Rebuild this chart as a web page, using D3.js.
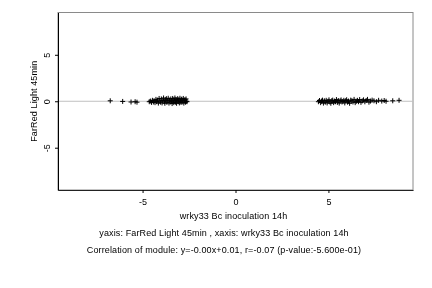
<!DOCTYPE html>
<html><head><meta charset="utf-8">
<script src="https://cdn.jsdelivr.net/npm/d3@7/dist/d3.min.js"></script>
<style>body{margin:0;background:#fff}svg{display:block;filter:grayscale(1)}text{font-family:"Liberation Sans",Arial,sans-serif;fill:#000}</style>
</head><body>
<script>
const xLabel = "wrky33 Bc inoculation 14h";
const yLabel = "FarRed Light 45min";
const caption1 = "yaxis: FarRed Light 45min , xaxis: wrky33 Bc inoculation 14h";
const caption2 = "Correlation of module: y=-0.00x+0.01, r=-0.07 (p-value:-5.600e-01)";
const xTicks = [-5, 0, 5];
const yTicks = [-5, 0, 5];
const xDomain = [-9.55, 9.55];
const yDomain = [-9.55, 9.55];

const leftX = [-6.74,-6.07,-5.62,-5.40,-5.30,-4.64,-4.58,-4.52,-4.47,-4.42,-4.38,-4.33,-4.28,-4.24,-4.20,-4.15,-4.11,-4.07,-4.03,-3.99,-3.95,-3.91,-3.87,-3.83,-3.80,-3.76,-3.72,-3.69,-3.65,-3.62,-3.58,-3.55,-3.51,-3.48,-3.45,-3.41,-3.38,-3.35,-3.32,-3.29,-3.26,-3.23,-3.20,-3.17,-3.14,-3.11,-3.08,-3.05,-3.02,-2.99,-2.96,-2.93,-2.90,-2.87,-2.84,-2.81,-2.78,-2.75,-2.72,-2.69,-2.66,-2.63,-2.61];
const leftY = [0.05,-0.02,-0.08,-0.05,-0.10,-0.05,0.02,-0.12,0.10,-0.08,0.05,-0.15,0.20,-0.05,0.12,-0.20,0.30,0.02,-0.10,0.25,-0.18,0.08,0.35,-0.05,-0.22,0.15,0.28,-0.12,0.05,0.32,-0.20,0.10,-0.08,0.25,0.00,-0.25,0.30,0.12,-0.15,0.05,0.35,-0.10,0.20,-0.22,0.08,0.28,-0.05,0.15,-0.18,0.32,0.02,-0.12,0.22,-0.08,0.10,0.30,-0.20,0.05,0.18,-0.10,0.25,0.00,-0.05];
const rightX = [4.46,4.52,4.58,4.63,4.68,4.73,4.78,4.83,4.88,4.93,4.98,5.03,5.08,5.13,5.18,5.23,5.28,5.33,5.38,5.43,5.48,5.53,5.58,5.63,5.68,5.73,5.78,5.83,5.88,5.93,5.98,6.03,6.08,6.14,6.20,6.26,6.32,6.38,6.44,6.50,6.56,6.62,6.68,6.75,6.82,6.89,6.96,7.03,7.10,7.18,7.26,7.35,7.45,7.58,7.70,7.87,8.00,8.10,8.46,8.80];
const rightY = [-0.05,0.08,-0.15,0.02,0.12,-0.20,0.05,-0.10,0.10,-0.18,0.00,0.15,-0.08,-0.22,0.06,0.12,-0.15,0.02,-0.05,0.18,-0.12,0.08,-0.20,0.04,0.14,-0.08,-0.02,0.10,-0.18,0.06,0.16,-0.10,0.02,-0.22,0.12,0.05,-0.08,0.20,-0.15,0.00,0.10,-0.05,0.18,-0.12,0.04,0.15,-0.06,0.08,0.20,-0.10,0.02,0.12,0.05,-0.05,0.10,0.02,0.08,0.00,0.05,0.10];

const W = 432, H = 288;
const m = {l: 58, r: 413, t: 12.5, b: 190};
const FS = 9, LS = "0.12px";
const svg = d3.select("body").append("svg").attr("width", W).attr("height", H);
const x = d3.scaleLinear().domain(xDomain).range([m.l, m.r]);
const y = d3.scaleLinear().domain(yDomain).range([m.b, m.t]);
const fmt = d => String(d);

// box
svg.append("rect").attr("x", m.l).attr("y", m.t).attr("width", m.r - m.l).attr("height", m.b - m.t)
  .attr("fill", "none").attr("stroke", "#8a8a8a").attr("stroke-width", 1);
// zero line
svg.append("line").attr("x1", m.l).attr("x2", m.r).attr("y1", y(0)).attr("y2", y(0))
  .attr("stroke", "#c0c0c0").attr("stroke-width", 1);

// axes
const xAxis = svg.append("g").attr("transform", `translate(0,${m.b})`)
  .call(d3.axisBottom(x).tickValues(xTicks).tickSize(3).tickSizeOuter(0).tickPadding(6).tickFormat(fmt));
xAxis.select(".domain").attr("stroke", "#222");
xAxis.selectAll("text").attr("font-size", FS).attr("fill", "#000").attr("font-family", "Liberation Sans, Arial, sans-serif");
const yAxis = svg.append("g").attr("transform", `translate(${m.l},0)`)
  .call(d3.axisLeft(y).tickValues(yTicks).tickSize(3).tickSizeOuter(0).tickPadding(6).tickFormat(fmt));
yAxis.select(".domain").attr("stroke", "#000");
yAxis.selectAll(".tick text").attr("font-size", FS).attr("fill", "#000").attr("font-family", "Liberation Sans, Arial, sans-serif")
  .attr("text-anchor", "middle").attr("x", null).attr("dy", null)
  .attr("transform", "translate(-8,0) rotate(-90)");

// points as plus markers
const pts = leftX.map((v, i) => [v, leftY[i]]).concat(rightX.map((v, i) => [v, rightY[i]]));
const g = svg.append("g");
pts.forEach(([vx, vy]) => {
  const cx = x(vx), cy = y(vy);
  g.append("path").attr("d", `M${cx - 2.5},${cy}H${cx + 2.5}M${cx},${cy - 2.5}V${cy + 2.5}`)
    .attr("stroke", "#000").attr("stroke-width", 1).attr("fill", "none");
});

// labels
const txt = (sel) => sel.attr("text-anchor", "middle").attr("font-size", FS).attr("fill", "#000").style("letter-spacing", LS);
txt(svg.append("text").attr("x", 233.5).attr("y", 219)).text(xLabel);
txt(svg.append("text").attr("transform", `translate(37,${(m.t + m.b) / 2}) rotate(-90)`)).text(yLabel);
txt(svg.append("text").attr("x", 224).attr("y", 236)).text(caption1);
txt(svg.append("text").attr("x", 224).attr("y", 253)).text(caption2);
</script>
</body></html>
